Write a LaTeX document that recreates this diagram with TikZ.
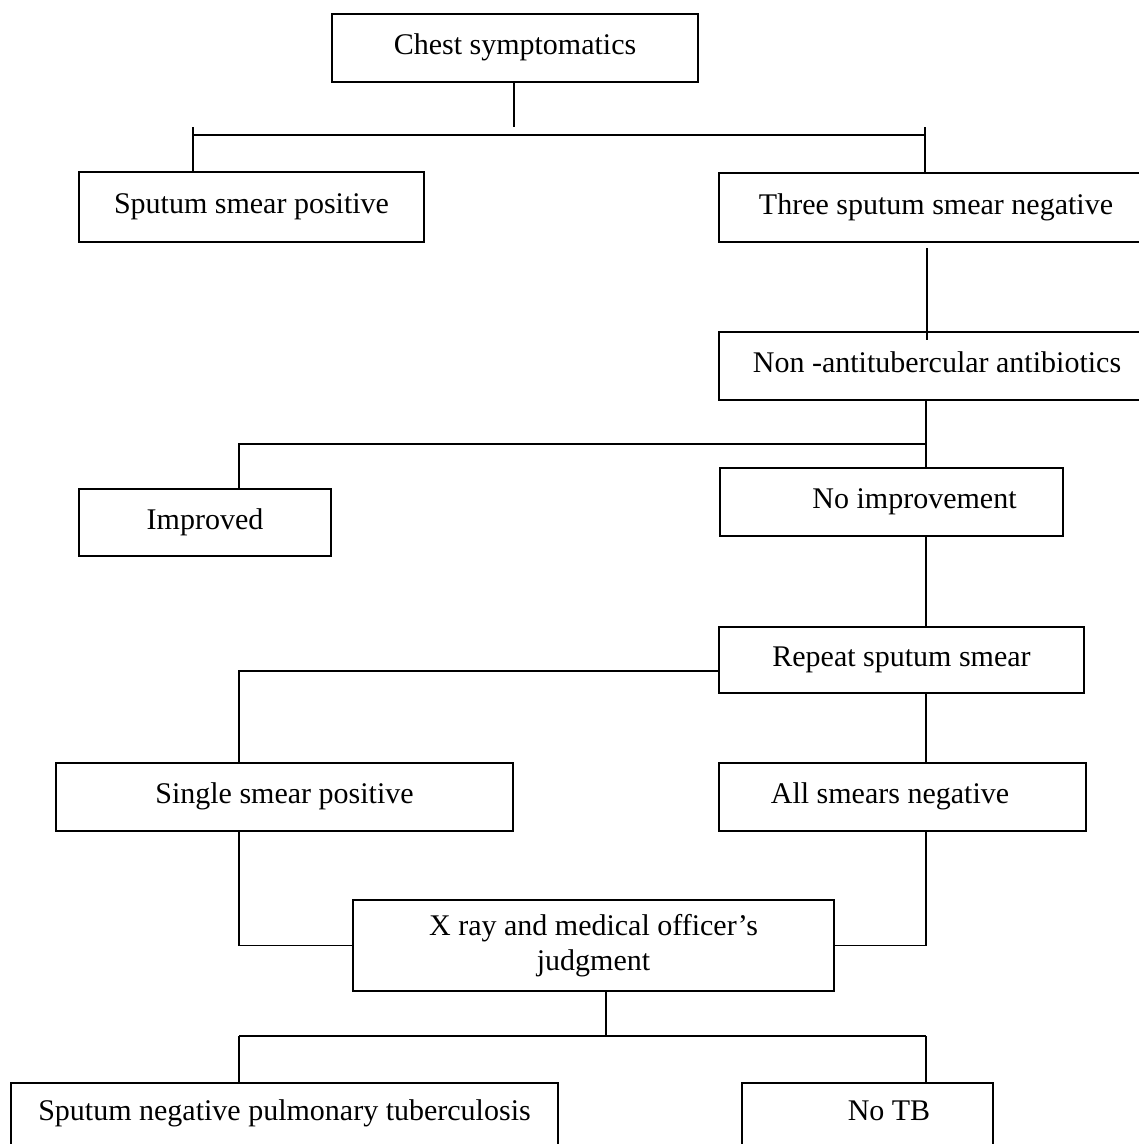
\documentclass[tikz,border=0pt]{standalone}
\usepackage{fontspec}
\setmainfont{Liberation Serif}
\tikzset{
  box/.style={draw, line width=1.8pt, inner sep=0pt, outer sep=0pt, anchor=north west,
    font=\fontsize{30}{35}\selectfont, text height=20pt, text depth=7pt},
  box2/.style={draw, line width=1.8pt, inner sep=0pt, outer sep=0pt, anchor=north west,
    font=\fontsize{30}{35}\selectfont, align=center},
  lowbox/.style={box, text depth=26pt},
  conn/.style={line width=1.8pt},
}
\begin{document}
\begin{tikzpicture}[x={(1pt,0pt)}, y={(0pt,-1pt)}]
\useasboundingbox (0,0) rectangle (1139,1144);
\fill[white] (0,0) rectangle (1139,1144);
\clip (0,0) rectangle (1139,1144);

\node[box, minimum width=366pt, minimum height=68pt] (chest) at (332,14) {Chest symptomatics};
\node[box, minimum width=345pt, minimum height=70pt] (spos) at (79,172) {Sputum smear positive};
\node[box, minimum width=434pt, minimum height=69pt] (neg3) at (719,173) {Three sputum smear negative};
\node[box, minimum width=436pt, minimum height=68pt] (nonab) at (719,332) {Non -antitubercular antibiotics};
\node[box, minimum width=252pt, minimum height=67pt] (impr) at (79,489) {Improved};
\node[box, minimum width=343pt, minimum height=68pt] (noimp) at (720,468) {\hspace*{46pt}No improvement};
\node[box, minimum width=365pt, minimum height=66pt] (rep) at (719,627) {Repeat sputum smear};
\node[box, minimum width=457pt, minimum height=68pt] (single) at (56,763) {Single smear positive};
\node[box, minimum width=367pt, minimum height=68pt] (allneg) at (719,763) {All smears negative\hspace*{25pt}};
\node[box2, minimum width=481pt, minimum height=91pt] (xray) at (353,900) {X ray and medical officer's\\judgment};
\node[lowbox, minimum width=547pt, minimum height=80pt] (sneg) at (11,1083) {Sputum negative pulmonary tuberculosis};
\node[lowbox, minimum width=251pt, minimum height=80pt] (notb) at (742,1083) {\hspace*{43pt}No TB};

% connectors
\coordinate (c0) at (514,127);
\draw[conn] (chest.south -| c0) -- (c0);
\coordinate (hl) at (193,135);
\coordinate (hr) at (925,135);
\draw[conn] (hl) -- (hr);
\coordinate (tl) at (193,127);
\coordinate (tr) at (925,127);
\draw[conn] (tl) -- (tl |- spos.north);
\draw[conn] (tr) -- (tr |- neg3.north);
\coordinate (a1) at (927,248);
\coordinate (a2) at (927,340);
\draw[conn] (a1) -- (a2);
\coordinate (cx) at (926,0);
\draw[conn] (nonab.south -| cx) -- (noimp.north -| cx);
\coordinate (b1) at (926,444);
\coordinate (b2) at (239,444);
\draw[conn] (b1) -- (b2) -- (b2 |- impr.north);
\draw[conn] (noimp.south -| cx) -- (rep.north -| cx);
\coordinate (r1) at (719,671);
\coordinate (r2) at (239,671);
\draw[conn] (r1) -- (r2) -- (r2 |- single.north);
\draw[conn] (rep.south -| cx) -- (allneg.north -| cx);
\draw[conn] (single.south -| r2) |- (xray.west);
\draw[conn] (allneg.south -| cx) |- (xray.east);
\coordinate (x1) at (606,1036);
\coordinate (xl) at (239,1036);
\coordinate (xr) at (926,1036);
\draw[conn] (xray.south -| x1) -- (x1);
\draw[conn] (xl) -- (xr);
\draw[conn] (xl) -- (xl |- sneg.north);
\draw[conn] (xr) -- (xr |- notb.north);
\end{tikzpicture}
\end{document}
